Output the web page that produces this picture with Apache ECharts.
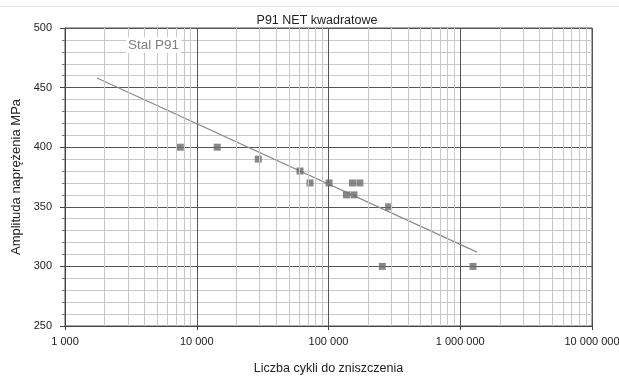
<!DOCTYPE html>
<html><head><meta charset="utf-8">
<script src="https://cdn.jsdelivr.net/npm/echarts@6/dist/echarts.min.js"></script>
<style>html,body{margin:0;padding:0;background:#fff}#c{width:619px;height:376px}</style>
</head><body><div id="c"></div>
<script>
const cycles = [7500, 14300, 29300, 60800, 72400, 101000, 137000, 156000, 152000, 173000, 286000, 256000, 1250000];
const stress = [400, 400, 390, 380, 370, 370, 360, 360, 370, 370, 350, 300, 300];
const trendCycles = [1750, 1340000];
const trendStress = [458, 312];
const xTicks = [1000, 10000, 100000, 1000000, 10000000];
const minorMultipliers = [2, 3, 4, 5, 6, 7, 8, 9];
const decades = [1000, 10000, 100000, 1000000];

const minorX = [];
decades.forEach(d => minorMultipliers.forEach(m => minorX.push({xAxis: d * m})));
const fmt = v => String(Math.round(v)).replace(/\B(?=(\d{3})+(?!\d))/g, ' ');

const chart = echarts.init(document.getElementById('c'));
chart.setOption({
  backgroundColor: '#fff',
  animation: false,
  textStyle: {fontFamily: 'Liberation Sans, Arial, sans-serif'},
  title: {
    text: 'P91 NET kwadratowe', left: 317, top: 14, textAlign: 'center', padding: 0,
    textStyle: {fontSize: 12.5, fontWeight: 'normal', color: '#222'}
  },
  graphic: [
    {type: 'line', shape: {x1: 0, y1: 6.5, x2: 619, y2: 6.5}, style: {stroke: '#e4e4e4', lineWidth: 1}, silent: true},
    {
      type: 'text', left: 126, top: 37, z: 10,
      style: {text: 'Stal P91', fontSize: 13.5, fill: '#808080', backgroundColor: '#fff', padding: [1, 2],
              fontFamily: 'Liberation Sans, Arial, sans-serif'}
    }
  ],
  grid: {left: 65, right: 27, top: 28, bottom: 50, show: true, borderColor: '#555', borderWidth: 1,
         outerBoundsMode: 'none', containLabel: false},
  xAxis: {
    type: 'log', logBase: 10, min: 1000, max: 10000000,
    name: 'Liczba cykli do zniszczenia', nameLocation: 'middle', nameGap: 36,
    nameTextStyle: {fontSize: 12.5, color: '#222'},
    axisLine: {lineStyle: {color: '#444'}},
    axisTick: {show: true, length: 4, lineStyle: {color: '#444'}},
    axisLabel: {fontSize: 11, color: '#222', formatter: v => fmt(v), margin: 10, hideOverlap: false},
    splitLine: {show: true, lineStyle: {color: '#555', width: 1}},
    minorTick: {show: false}, minorSplitLine: {show: false}
  },
  yAxis: {
    type: 'value', min: 250, max: 500, interval: 50,
    name: 'Amplituda naprężenia MPa', nameLocation: 'middle', nameGap: 42,
    nameTextStyle: {fontSize: 13, color: '#222'},
    axisLine: {show: true, lineStyle: {color: '#444'}},
    axisTick: {show: true, length: 5, lineStyle: {color: '#444'}},
    axisLabel: {fontSize: 11, color: '#222', margin: 13},
    splitLine: {show: true, lineStyle: {color: '#555', width: 1}},
    minorTick: {show: true, splitNumber: 5, length: 3, lineStyle: {color: '#777'}},
    minorSplitLine: {show: true, lineStyle: {color: '#c8c8c8', width: 1}}
  },
  series: [
    {
      type: 'line', data: [], silent: true, z: 1,
      markLine: {
        silent: true, symbol: 'none', animation: false,
        label: {show: false},
        lineStyle: {color: '#c8c8c8', width: 1, type: 'solid'},
        data: minorX
      }
    },
    {
      type: 'line', data: trendCycles.map((x, i) => [x, trendStress[i]]),
      showSymbol: false, symbol: 'none', z: 3,
      lineStyle: {color: '#8a8a8a', width: 1.2}
    },
    {
      type: 'scatter', data: cycles.map((x, i) => [x, stress[i]]),
      symbol: 'rect', symbolSize: 7, z: 4,
      itemStyle: {color: '#6a6a6a'}
    }
  ]
});
</script></body></html>
